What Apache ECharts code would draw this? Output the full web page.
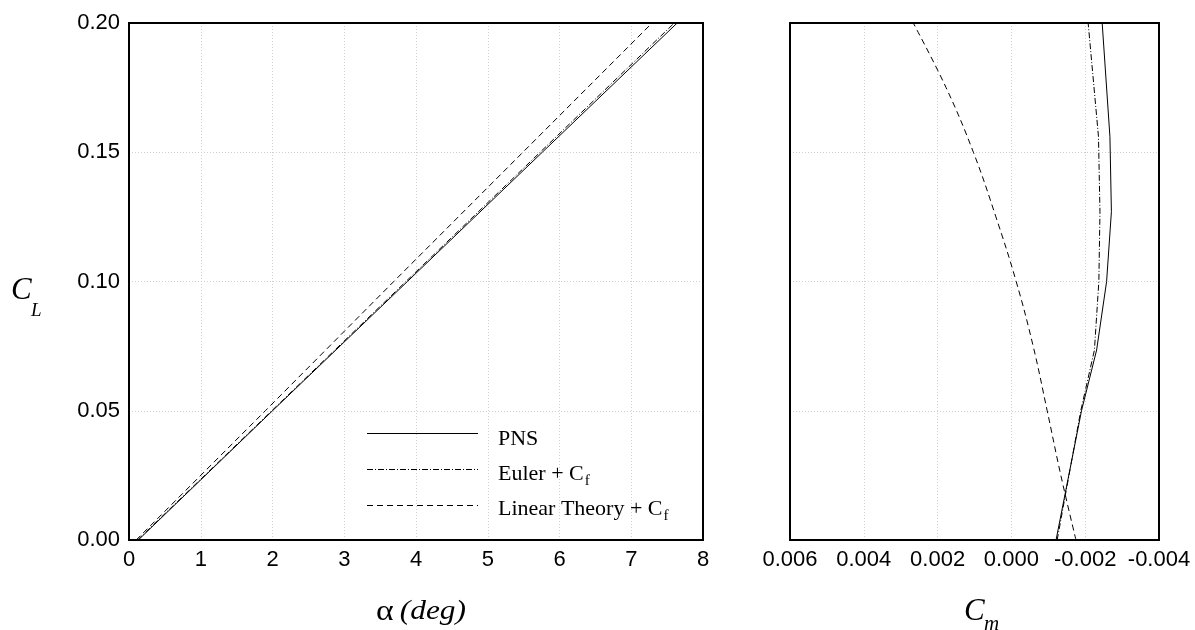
<!DOCTYPE html>
<html>
<head>
<meta charset="utf-8">
<title>CL alpha / Cm</title>
<script src="https://cdn.jsdelivr.net/npm/echarts@6/dist/echarts.min.js"></script>
<style>
	html, body {margin: 0; padding: 0; background: #fff}
	#main {width: 1195px; height: 630px}
</style>
</head>
<body>
<div id="main"></div>
<script>
//左图: CL 对 alpha
var clLeft = [0, 0.05, 0.10, 0.15, 0.20]
var alphaPNS = [0.13, 2.00, 3.88, 5.76, 7.64]
var alphaEuler = [0.12, 1.99, 3.86, 5.73, 7.60]
var alphaLinear = [0.10, 1.90, 3.69, 5.49, 7.29]

//右图: CL 对 Cm
var clPNS = [0, 0.0174, 0.05, 0.0735, 0.10, 0.127, 0.156, 0.20]
var cmPNS = [-0.00121, -0.00145, -0.00190, -0.00231, -0.00258, -0.00271, -0.00267, -0.00246]
var clEuler = [0, 0.05, 0.0735, 0.10, 0.127, 0.156, 0.20]
var cmEuler = [-0.00124, -0.00188, -0.00225, -0.00237, -0.00240, -0.00236, -0.00208]
var clLinear = [0, 0.025, 0.05, 0.075, 0.10, 0.125, 0.15, 0.175, 0.20]
var cmLinear = [-0.00175, -0.00134, -0.00097, -0.00059, -0.00013, 0.00042, 0.00103, 0.00177, 0.00266]

var legendNames = ['PNS', 'Euler + C', 'Linear Theory + C']

var dashDot = [6, 2, 1, 2]
var dashed = [6, 4]
var sans = 'Liberation Sans'
var serif = 'Liberation Serif'

function pairs(xs, ys) {
	var out = []
	for (var i = 0; i < xs.length; i++) out.push([xs[i], ys[i]])
	return out
}

function lineSeries(name, x, y, data, type, smooth) {
	return {
		name: name,
		type: 'line',
		xAxisIndex: x,
		yAxisIndex: y,
		data: data,
		symbol: 'none',
		smooth: smooth || false,
		silent: true,
		lineStyle: {color: '#000', width: 1, type: type}
	}
}

//网格线不画在边框上
var gridLine = {show: true, showMinLine: false, showMaxLine: false, lineStyle: {color: '#d0d0d0', width: 1, type: [1, 2]}}
var label = {color: '#000', fontFamily: sans, fontSize: 22}

//图例的 C 带下标 f
function legendText(name) {
	return {
		text: '{m|' + name + '}{s|f}', fill: '#000',
		rich: {m: {fontFamily: serif, fontSize: 22, fill: '#000'}, s: {fontFamily: serif, fontSize: 15, padding: [15, 0, 0, 1]}}
	}
}

var chart = echarts.init(document.getElementById('main'))
chart.setOption({
	animation: false,
	backgroundColor: '#fff',
	grid: [
		{left: 129, top: 23, width: 574, height: 517, show: true, borderColor: '#000', borderWidth: 2, z: 5},
		{left: 790, top: 23, width: 369, height: 517, show: true, borderColor: '#000', borderWidth: 2, z: 5}
	],
	xAxis: [
		{
			gridIndex: 0, type: 'value', min: 0, max: 8, interval: 1,
			axisLine: {show: false}, axisTick: {show: false}, splitLine: gridLine,
			axisLabel: Object.assign({margin: 9}, label)
		},
		{
			gridIndex: 1, type: 'value', min: -0.004, max: 0.006, interval: 0.002, inverse: true,
			axisLine: {show: false}, axisTick: {show: false}, splitLine: gridLine,
			axisLabel: Object.assign({margin: 9, formatter: function(v) {
				return (Math.abs(v) < 1e-9 ? 0 : v).toFixed(3)
			}}, label)
		}
	],
	yAxis: [
		{
			gridIndex: 0, type: 'value', min: 0, max: 0.2, interval: 0.05,
			axisLine: {show: false}, axisTick: {show: false}, splitLine: gridLine,
			axisLabel: Object.assign({margin: 9, formatter: function(v) {return v.toFixed(2)}}, label)
		},
		{
			gridIndex: 1, type: 'value', min: 0, max: 0.2, interval: 0.05,
			axisLine: {show: false}, axisTick: {show: false}, splitLine: gridLine,
			axisLabel: {show: false}
		}
	],
	series: [
		lineSeries(legendNames[0], 0, 0, pairs(alphaPNS, clLeft), 'solid'),
		lineSeries(legendNames[1], 0, 0, pairs(alphaEuler, clLeft), dashDot),
		lineSeries(legendNames[2], 0, 0, pairs(alphaLinear, clLeft), dashed),
		lineSeries(legendNames[0], 1, 1, pairs(cmPNS, clPNS), 'solid'),
		lineSeries(legendNames[1], 1, 1, pairs(cmEuler, clEuler), dashDot),
		lineSeries(legendNames[2], 1, 1, pairs(cmLinear, clLinear), dashed, 0.4)
	],
	graphic: [
		//图例
		{type: 'line', shape: {x1: 367, y1: 433.5, x2: 478, y2: 433.5}, style: {stroke: '#000', lineWidth: 1}},
		{type: 'line', shape: {x1: 367, y1: 469.5, x2: 478, y2: 469.5}, style: {stroke: '#000', lineWidth: 1, lineDash: dashDot}},
		{type: 'line', shape: {x1: 367, y1: 505.5, x2: 478, y2: 505.5}, style: {stroke: '#000', lineWidth: 1, lineDash: dashed}},
		{type: 'text', left: 498, top: 428, style: {text: legendNames[0], font: '22px "' + serif + '"', fill: '#000'}},
		{type: 'text', left: 498, top: 463, style: legendText(legendNames[1])},
		{type: 'text', left: 498, top: 498, style: legendText(legendNames[2])},
		//坐标轴标题
		{type: 'text', x: 11, y: 291, style: {text: 'C', font: 'italic 31px "' + serif + '"', fill: '#000', verticalAlign: 'middle'}},
		{type: 'text', x: 31, y: 311, style: {text: 'L', font: 'italic 19px "' + serif + '"', fill: '#000', verticalAlign: 'middle'}},
		{type: 'text', x: 376, y: 612, scaleX: 1.12, style: {
			text: '{a|α}{sp| }{d|(deg)}', fill: '#000', verticalAlign: 'middle',
			rich: {a: {fontFamily: serif, fontSize: 30}, sp: {fontFamily: serif, fontSize: 22}, d: {fontFamily: serif, fontStyle: 'italic', fontSize: 28}}
		}},
		{type: 'text', x: 964, y: 612, style: {text: 'C', font: 'italic 31px "' + serif + '"', fill: '#000', verticalAlign: 'middle'}},
		{type: 'text', x: 984, y: 624, style: {text: 'm', font: 'italic 21px "' + serif + '"', fill: '#000', verticalAlign: 'middle'}}
	]
})
</script>
</body>
</html>
